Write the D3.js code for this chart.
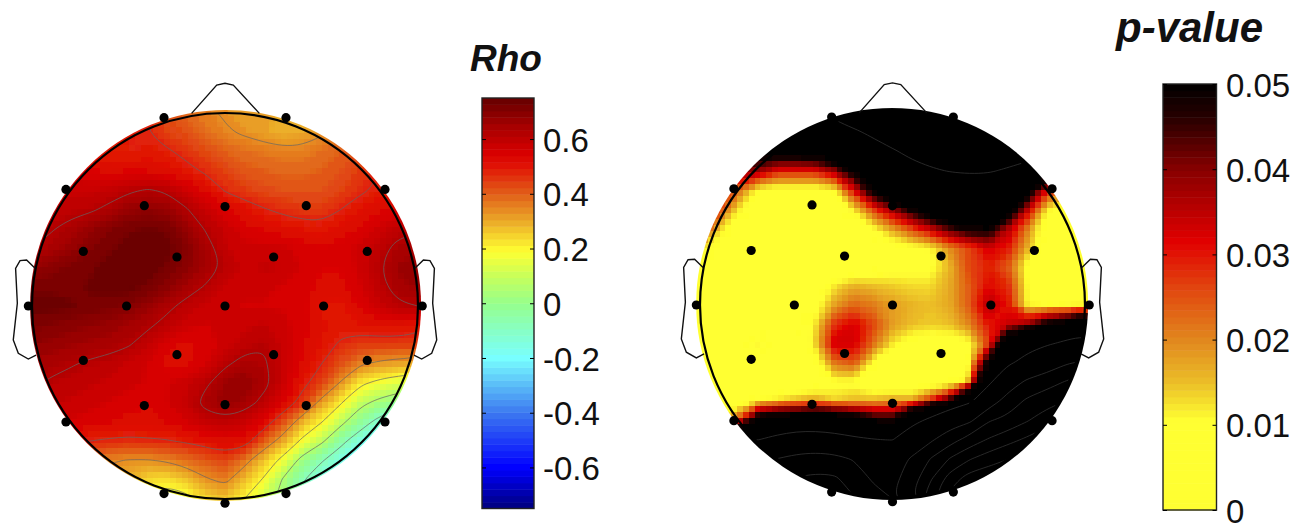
<!DOCTYPE html>
<html>
<head>
<meta charset="utf-8">
<script src="https://cdn.jsdelivr.net/npm/d3@7"></script>
<style>
  html, body { margin: 0; background: #fff; }
  svg { display: block; }
  text { font-family: "Liberation Sans", Arial, sans-serif; fill: #111; }
</style>
</head>
<body>
<svg id="chart" width="1309" height="523"></svg>
<script>
// electrode positions, unit = head radius, y down
const elecX = [-.316, .316, -.824, .829, -.418, 0, .421, -.734, -.249, .252, .737, -1.019, -.51, 0, .511, 1.022, -.734, -.249, .252, .737, -.418, 0, .421, -.824, .829, -.316, 0, .316];
const elecY = [-.976, -.976, -.604, -.604, -.52, -.515, -.52, -.283, -.254, -.254, -.283, 0, 0, 0, 0, 0, .282, .252, .252, .282, .516, .511, .516, .601, .601, .972, 1.022, .972];

// head outline
const noseX = [-.173, -.043, 0, .043, .178];
const noseY = [-.998, -1.145, -1.154, -1.145, -.998];
const earX = [.984, 1.028, 1.062, 1.085, 1.076, 1.097, 1.071, 1.019, .979];
const earY = [-.195, -.238, -.235, -.195, -.014, .176, .245, .275, .254];

// correlation, 21 x 21 samples across the head box
const rhoGrid = [
  [.50,.50,.50,.50,.50,.50,.48,.42,.39,.36,.33,.32,.31,.30,.30,.30,.30,.30,.30,.30,.30],
  [.50,.50,.50,.50,.50,.50,.48,.44,.42,.38,.35,.33,.31,.29,.30,.33,.36,.38,.40,.42,.42],
  [.52,.52,.52,.50,.49,.49,.50,.49,.46,.43,.40,.38,.37,.36,.36,.38,.40,.42,.44,.46,.46],
  [.55,.55,.55,.54,.53,.53,.53,.52,.50,.47,.44,.41,.40,.39,.39,.40,.42,.45,.48,.50,.50],
  [.58,.58,.58,.58,.59,.61,.625,.61,.57,.53,.475,.45,.43,.42,.42,.42,.44,.47,.49,.50,.50],
  [.58,.59,.60,.61,.635,.67,.68,.67,.625,.58,.54,.51,.485,.465,.45,.45,.48,.51,.53,.54,.54],
  [.60,.615,.64,.67,.70,.72,.73,.72,.67,.615,.58,.55,.53,.52,.51,.50,.52,.54,.57,.60,.61],
  [.62,.64,.67,.70,.72,.74,.75,.74,.70,.645,.59,.57,.57,.57,.55,.54,.55,.57,.60,.64,.65],
  [.67,.69,.71,.72,.74,.75,.75,.72,.69,.65,.61,.58,.59,.585,.56,.54,.54,.57,.615,.66,.67],
  [.72,.72,.72,.73,.74,.74,.72,.69,.65,.615,.58,.57,.57,.56,.55,.53,.53,.56,.60,.65,.66],
  [.74,.74,.73,.72,.71,.70,.67,.635,.60,.58,.57,.56,.56,.56,.55,.51,.50,.54,.58,.61,.62],
  [.71,.70,.69,.68,.67,.65,.63,.60,.57,.56,.57,.58,.59,.57,.55,.52,.50,.51,.52,.52,.50],
  [.68,.67,.66,.65,.64,.625,.59,.55,.53,.55,.57,.60,.615,.58,.54,.51,.47,.45,.45,.45,.45],
  [.65,.64,.625,.61,.60,.58,.56,.53,.53,.56,.61,.64,.63,.58,.53,.48,.42,.35,.32,.30,.29],
  [.63,.61,.60,.59,.58,.57,.56,.56,.58,.61,.66,.68,.64,.58,.50,.44,.33,.22,.17,.14,.12],
  [.60,.59,.58,.57,.56,.55,.54,.56,.59,.64,.67,.65,.60,.54,.45,.31,.21,.09,.03,-.02,-.04],
  [.58,.57,.56,.55,.54,.53,.53,.54,.56,.59,.60,.58,.53,.42,.29,.205,.09,-.02,-.12,-.20,-.22],
  [.52,.51,.50,.48,.47,.465,.47,.475,.49,.51,.53,.52,.40,.30,.18,.08,-.05,-.15,-.25,-.30,-.30],
  [.42,.41,.40,.38,.35,.335,.335,.35,.38,.41,.44,.37,.27,.17,.02,-.07,-.15,-.25,-.30,-.35,-.35],
  [.33,.33,.33,.31,.30,.28,.24,.23,.27,.33,.36,.28,.19,.05,-.07,-.16,-.22,-.30,-.35,-.40,-.40],
  [.24,.24,.24,.24,.23,.21,.17,.15,.17,.24,.27,.20,.11,.03,-.10,-.20,-.30,-.35,-.40,-.45,-.45]
];

// p-value x 1000; the black part runs on past 50
const pGrid = [
  [70,70,70,70,70,70,90,110,125,135,140,150,160,170,170,170,170,170,170,170,170],
  [60,60,60,60,65,70,75,85,95,108,120,130,140,150,150,150,150,150,150,150,150],
  [55,55,55,55,55,55,58,64,72,84,97,108,115,120,120,120,118,112,110,110,110],
  [40,40,40,38,30,30,30,38,52,66,78,90,97,102,104,103,97,90,70,70,70],
  [30,30,22,9,7,7,7,10,30,52,62,72,78,80,82,82,78,55,30,20,20],
  [30,26,12,5,5,5,5,5,12,26,38,50,60,68,70,68,58,34,12,6,6],
  [30,14,5,4,4,4,4,5,6,10,18,26,34,44,50,50,36,20,5,5,5],
  [14,6,4,3,3,3,3,3,3,4,6,9,11,20,26,33,30,16,4,3,3],
  [6,4,3,3,3,3,3,4,4,6,8,9,9,16,26,29,24,8,3,3,3],
  [3,3,3,3,3,3,6,12,16,15,14,13,13,17,24,31,28,9,4,3,3],
  [3,3,3,3,3,4,8,18,23,21,18,16,15,17,24,36,30,10,8,8,8],
  [3,3,3,3,3,3,12,28,32,26,18,15,14,15,20,30,34,38,50,60,70],
  [3,3,3,12,3,3,13,33,33,22,12,7,6,6,9,26,62,82,94,108,120],
  [3,3,4,6,3,3,6,22,24,9,4,4,4,4,8,52,90,118,150,235,270],
  [3,3,3,3,3,3,4,9,9,4,3,3,3,3,14,85,175,275,340,410,480],
  [3,3,4,10,13,16,18,14,16,16,18,18,28,46,85,170,310,430,490,550,590],
  [10,10,25,56,64,66,68,66,58,50,48,80,115,175,220,390,440,540,640,720,760],
  [70,80,90,99,112,125,125,118,108,102,98,150,230,340,460,565,650,730,800,850,880],
  [170,190,210,230,252,290,310,290,240,195,190,265,410,565,690,780,848,900,950,980,990],
  [250,280,310,340,370,405,430,420,330,230,205,330,535,770,920,960,980,990,1000,1000,1000],
  [340,370,400,430,470,500,500,460,405,300,245,395,650,900,1000,1000,1000,1000,1000,1000,1000]
];

// contour levels drawn as thin lines
const rhoLevels = [-.08, .06, .2, .34, .48, .62];
const pLevels = [100, 250, 400, 550, 700, 850];

// colour bars
const rhoTicks = [-.6, -.4, -.2, 0, .2, .4, .6];
const pTicks = [0, .01, .02, .03, .04, .05];
const rhoStops = [-.75, -.6, -.4, -.2, 0, .1, .19, .3, .4, .5, .55, .65, .75];
const rhoColors = ['#00007d', '#0000ff', '#3c78f0', '#78ffff', '#96ff8c', '#c8ff5a', '#ffff32', '#ebaa28', '#e15f19', '#e11405', '#d70000', '#a50000', '#640000'];
const pStops = [0, .0105, .015, .02, .026, .0315, .04, .046, .05];
const pColors = ['#ffff32', '#ffff32', '#ebbe28', '#e1871e', '#e1460f', '#e10000', '#870000', '#280000', '#000000'];

const nLevels = 64, gridSize = 21, rasterSize = 67;

const rhoColor = d3.scaleLinear().domain(rhoStops).range(rhoColors);
const pColor = d3.scaleLinear().domain(pStops).range(pColors);

const svg = d3.select('#chart');

const defs = svg.append('defs');
defs.append('filter').attr('id', 'soft')
  .attr('x', '-5%').attr('y', '-5%').attr('width', '110%').attr('height', '110%')
  .append('feGaussianBlur').attr('stdDeviation', .7);

let clipCount = 0;

function drawHead(o) {
  const x = d3.scaleLinear().domain([-1, 1]).range([o.cx - o.r, o.cx + o.r]);
  const y = d3.scaleLinear().domain([-1, 1]).range([o.cy - o.r, o.cy + o.r]);
  const gx = v => x((v - gridSize / 2) / 10);
  const gy = v => y((v - gridSize / 2) / 10);
  const g = svg.append('g');
  const values = o.grid.flat();

  const diskCx = x(o.diskX), diskCy = y(o.diskY);
  const clipId = 'disk' + clipCount++;
  defs.append('clipPath').attr('id', clipId)
    .append('circle').attr('cx', diskCx).attr('cy', diskCy).attr('r', o.diskR);

  // one filled contour for each colour level of the bar, painted into a
  // small canvas so the map keeps its coarse blocks when scaled up
  const bands = d3.contours().size([gridSize, gridSize]).thresholds(o.bands)(values);
  const canvas = document.createElement('canvas');
  canvas.width = canvas.height = rasterSize;
  const ctx = canvas.getContext('2d');
  const cell = 2 * o.diskR / rasterSize;
  const boxX = diskCx - o.diskR, boxY = diskCy - o.diskR;
  ctx.fillStyle = o.color(o.bandValue(o.bands[0]));
  ctx.fillRect(0, 0, rasterSize, rasterSize);
  ctx.setTransform(o.r / 10 / cell, 0, 0, o.r / 10 / cell, (gx(0) - boxX) / cell, (gy(0) - boxY) / cell);
  const bandPath = d3.geoPath(null, ctx);
  bands.forEach(b => {
    ctx.beginPath();
    bandPath(b);
    ctx.fillStyle = o.color(o.bandValue(b.value));
    ctx.fill();
  });

  g.append('g').attr('clip-path', `url(#${clipId})`)
    .append('g').attr('filter', 'url(#soft)')
    .append('image')
      .attr('x', boxX).attr('y', boxY)
      .attr('width', 2 * o.diskR).attr('height', 2 * o.diskR)
      .attr('preserveAspectRatio', 'none')
      .style('image-rendering', 'pixelated')
      .attr('href', canvas.toDataURL());

  // thin contour lines
  const lineClip = 'ring' + clipCount++;
  defs.append('clipPath').attr('id', lineClip)
    .append('circle').attr('cx', o.cx).attr('cy', o.cy).attr('r', o.r - 1);
  const ringLine = d3.line().x(p => gx(p[0])).y(p => gy(p[1])).curve(d3.curveBasisClosed);
  const rings = d3.contours().size([gridSize, gridSize]).thresholds(o.levels)(values)
    .flatMap(c => c.coordinates.flat());
  g.append('g')
    .attr('clip-path', `url(#${lineClip})`)
    .selectAll('path')
    .data(rings)
    .join('path')
      .attr('d', ringLine)
      .attr('fill', 'none')
      .attr('stroke', o.lineColor)
      .attr('stroke-width', .7);

  // scalp ring, nose and ears
  const outline = d3.line().x(d => x(d[0])).y(d => y(d[1]));
  g.append('circle')
    .attr('cx', o.cx).attr('cy', o.cy).attr('r', o.r)
    .attr('fill', 'none').attr('stroke', '#000').attr('stroke-width', 2.2);
  const nose = noseX.map((v, i) => [v, noseY[i]]);
  const earR = earX.map((v, i) => [v, earY[i]]);
  const earL = earX.map((v, i) => [-v, earY[i]]);
  g.selectAll('path.head')
    .data([nose, earL, earR])
    .join('path')
      .attr('class', 'head')
      .attr('d', outline)
      .attr('fill', 'none').attr('stroke', '#111').attr('stroke-width', 1.4);

  g.selectAll('circle.elec')
    .data(elecX.map((v, i) => [v, elecY[i]]))
    .join('circle')
      .attr('class', 'elec')
      .attr('cx', d => x(d[0])).attr('cy', d => y(d[1]))
      .attr('r', 4.6).attr('fill', '#000');
}

function drawBar(o) {
  const y = d3.scaleLinear().domain(o.domain).range([o.bottom, o.top]);
  const g = svg.append('g');
  const step = (o.domain[1] - o.domain[0]) / nLevels;
  g.selectAll('rect.level')
    .data(d3.range(nLevels).map(i => o.domain[0] + i * step))
    .join('rect')
      .attr('class', 'level')
      .attr('x', o.left).attr('width', o.right - o.left)
      .attr('y', d => y(d + step))
      .attr('height', d => y(d) - y(d + step) + .5)
      .attr('fill', d => o.color(d + step / 2));
  g.append('rect')
    .attr('x', o.left).attr('y', o.top)
    .attr('width', o.right - o.left).attr('height', o.bottom - o.top)
    .attr('fill', 'none').attr('stroke', '#222').attr('stroke-width', 1.4);

  // ticks point inwards on both edges, labels sit on the right
  g.append('g').attr('transform', `translate(${o.left},0)`)
    .call(d3.axisRight(y).tickValues(o.ticks).tickSize(4).tickFormat(''))
    .call(a => a.select('.domain').remove());
  g.append('g').attr('transform', `translate(${o.right},0)`)
    .call(d3.axisLeft(y).tickValues(o.ticks).tickSize(4).tickFormat(''))
    .call(a => a.select('.domain').remove());
  g.selectAll('text.tick-label')
    .data(o.ticks)
    .join('text')
      .attr('class', 'tick-label')
      .attr('x', o.labelX).attr('y', d => y(d))
      .attr('dy', '.38em')
      .attr('font-size', 33)
      .text(d => d);

  g.append('text')
    .attr('x', o.titleX).attr('y', o.titleY)
    .attr('font-size', o.titleSize)
    .attr('font-weight', 'bold').attr('font-style', 'italic')
    .text(o.title);
}

const rhoBands = d3.range(nLevels).map(i => -.75 + i * 1.5 / nLevels);
const pBands = d3.range(nLevels).map(i => i * 50 / nLevels);

drawHead({
  cx: 225, cy: 306, r: 193, diskX: .003, diskY: -.003, diskR: 195.5,
  grid: rhoGrid, levels: rhoLevels, lineColor: '#666',
  bands: rhoBands, bandValue: v => v + .75 / nLevels, color: rhoColor
});
drawHead({
  cx: 892.5, cy: 305, r: 192.5, diskX: -.002, diskY: -.005, diskR: 196,
  grid: pGrid, levels: pLevels, lineColor: '#3a3a3a',
  bands: pBands, bandValue: v => (v + 25 / nLevels) / 1000, color: pColor
});

drawBar({
  left: 482, right: 534, top: 98, bottom: 508.5, domain: [-.75, .75],
  ticks: rhoTicks, color: rhoColor, labelX: 543,
  title: 'Rho', titleX: 470, titleY: 71, titleSize: 37
});
drawBar({
  left: 1163, right: 1216.5, top: 84, bottom: 510, domain: [0, .05],
  ticks: pTicks, color: pColor, labelX: 1226,
  title: 'p-value', titleX: 1116, titleY: 42, titleSize: 42
});
</script>
</body>
</html>
